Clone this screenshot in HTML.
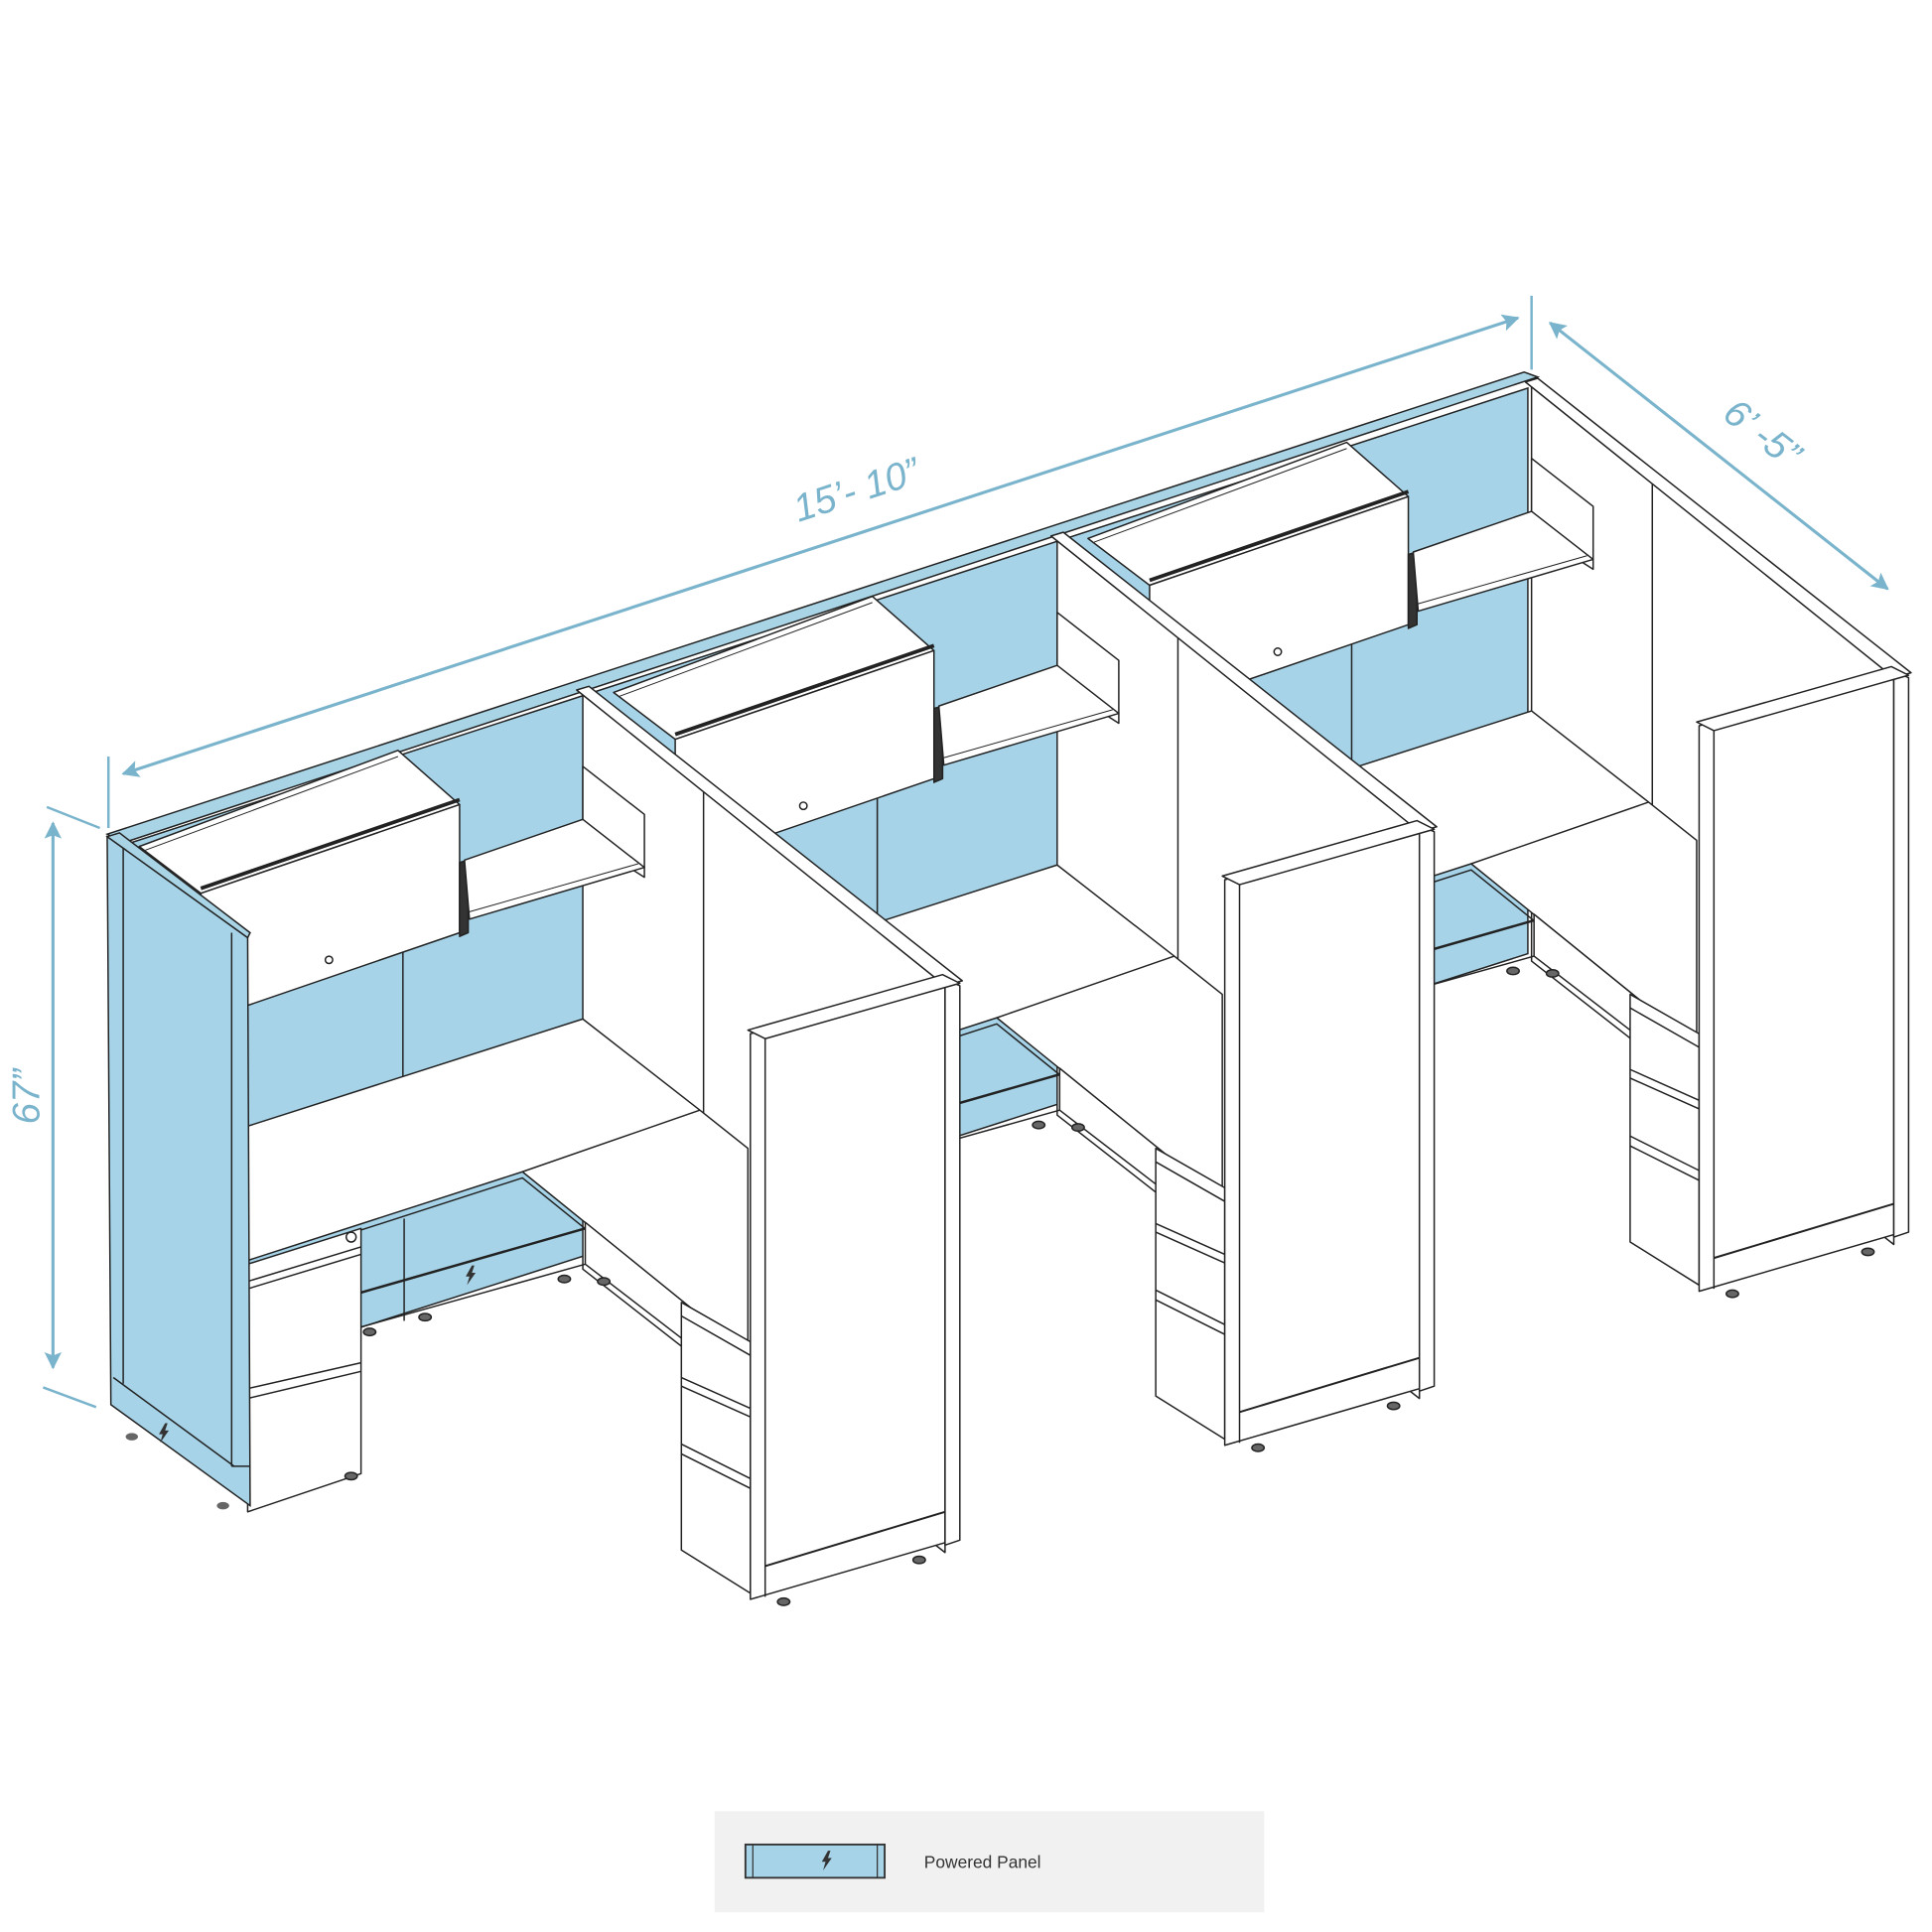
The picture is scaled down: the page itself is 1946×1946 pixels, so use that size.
<!DOCTYPE html>
<html><head><meta charset="utf-8"><style>
html,body{margin:0;padding:0;background:#fff;}
svg{display:block;}
</style></head><body>
<svg xmlns="http://www.w3.org/2000/svg" width="1946" height="1946" viewBox="0 0 1568 1568">
<defs>
<marker id="ar2" viewBox="0 0 10 10" refX="9" refY="5" markerWidth="22" markerHeight="14" orient="auto-start-reverse" markerUnits="userSpaceOnUse">
<path d="M0,0 L10,5 L0,10 L2,5 Z" fill="#7ab4cc"/></marker>
<path id="bolt" d="M1,-8 L-4,1 L-1,1 L-3,8 L4,-2 L1,-2 L3,-8 Z" fill="#333"/>
<g id="st" stroke="#222" stroke-width="1.2" stroke-linejoin="round">
 <polygon points="473,563 767,795 767,1260 473,1030" fill="#fff"/>
 <line x1="571" y1="637" x2="571" y2="905"/>
 <polygon points="468,560 478,557 781,796 767,800" fill="#fff"/>
 <polygon points="113,687 323,609 373,653 163,725" fill="#fff"/>
 <polygon points="163,725 373,653 373,757 163,829" fill="#fff"/>
 <line x1="163" y1="721" x2="373" y2="649" stroke-width="3"/>
 <line x1="118" y1="690" x2="323" y2="614" stroke-width="0.8"/>
 <circle cx="267" cy="779" r="3" fill="#fff"/>
 <polygon points="373,700 380,698 380,757 373,760" fill="#333"/>
 <line x1="327" y1="773" x2="327" y2="874"/>
 <polygon points="473,622 523,661 523,712 473,680" fill="#fff"/>
 <polygon points="377,698 473,665 523,704 381,746" fill="#fff"/>
 <line x1="381" y1="740" x2="518" y2="701" stroke-width="0.8"/>
 <polygon points="201,914 473,827 568,901 607,932 607,1099 424,951 201,1023" fill="#fff"/>
 <line x1="424" y1="951" x2="568" y2="901"/>
 <polyline points="201,1028 424,956 607,1104" fill="none"/>
 <line x1="293" y1="1049" x2="475" y2="997" stroke-width="2"/>
 <line x1="328" y1="989" x2="328" y2="1072"/>
 <line x1="293" y1="1077" x2="475" y2="1026"/>
 <use href="#bolt" x="382" y="1035" stroke="none"/>
 <polygon points="475,992 607,1099 607,1140 553,1086 475,1026" fill="#fff"/>
 <ellipse cx="300" cy="1081" rx="5" ry="3" fill="#666"/>
 <ellipse cx="345" cy="1069" rx="5" ry="3" fill="#666"/>
 <ellipse cx="458" cy="1038" rx="5" ry="3" fill="#666"/>
 <ellipse cx="490" cy="1040" rx="5" ry="3" fill="#666"/>
 <polygon points="201,1026 293,997 293,1196 201,1227" fill="#fff"/>
 <line x1="201" y1="1040" x2="293" y2="1012"/>
 <line x1="201" y1="1046" x2="293" y2="1018"/>
 <line x1="201" y1="1127" x2="293" y2="1106"/>
 <line x1="201" y1="1135" x2="293" y2="1113"/>
 <circle cx="285" cy="1004" r="4" fill="#fff"/>
 <ellipse cx="285" cy="1198" rx="5" ry="3" fill="#666"/>
 <polygon points="553,1057 609,1089 609,1293 553,1258" fill="#fff"/>
 <line x1="553" y1="1068" x2="609" y2="1100"/>
 <line x1="553" y1="1118" x2="609" y2="1143"/>
 <line x1="553" y1="1125" x2="609" y2="1150"/>
 <line x1="553" y1="1172" x2="609" y2="1200"/>
 <line x1="553" y1="1180" x2="609" y2="1208"/>
 <polygon points="609,839 767,795 767,1252 609,1298" fill="#fff"/>
 <line x1="621" y1="843" x2="621" y2="1296"/>
 <line x1="621" y1="1271" x2="767" y2="1227" stroke-width="1.6"/>
 <polygon points="767,795 779,800 779,1250 767,1254" fill="#fff"/>
 <polygon points="607,836 765,791 779,798 621,843" fill="#fff"/>
 <ellipse cx="636" cy="1300" rx="5" ry="3" fill="#666"/>
 <ellipse cx="746" cy="1266" rx="5" ry="3" fill="#666"/>
</g>
</defs>

<polygon points="100,686 1240,315 1240,774 100,1139" fill="#a6d3e7" stroke="#222" stroke-width="1.2"/>
<polygon points="87,677 1237,302 1248,306 100,684" fill="#a9d4e6" stroke="#222" stroke-width="1.2"/>

<use href="#st" transform="translate(770,-250)"/>
<use href="#st" transform="translate(385,-125)"/>
<use href="#st"/>

<g stroke="#222" stroke-width="1.2">
<polygon points="87,679 201,761 203,1222 90,1140" fill="#a6d3e7"/>
<line x1="100" y1="686" x2="100" y2="1123"/>
<line x1="188" y1="757" x2="188" y2="1190"/>
<polygon points="87,679 97,676 203,757 201,761" fill="#a9d4e6"/>
<line x1="92" y1="1118" x2="190" y2="1190"/>
<polyline points="188,1190 203,1190" fill="none"/>
</g>
<use href="#bolt" x="133" y="1163"/>
<ellipse cx="107" cy="1166" rx="5" ry="3" fill="#666"/>
<ellipse cx="181" cy="1222" rx="5" ry="3" fill="#666"/>

<g stroke="#7ab4cc" stroke-width="2.5" fill="none">
<line x1="100" y1="628" x2="1232" y2="258" marker-start="url(#ar2)" marker-end="url(#ar2)"/>
<line x1="1258" y1="262" x2="1532" y2="478" marker-start="url(#ar2)" marker-end="url(#ar2)"/>
<line x1="43" y1="668" x2="43" y2="1110" marker-start="url(#ar2)" marker-end="url(#ar2)"/>
</g>
<g stroke="#7ab4cc" stroke-width="2">
<line x1="88" y1="614" x2="88" y2="672"/>
<line x1="1243" y1="240" x2="1243" y2="300"/>
<line x1="38" y1="655" x2="81" y2="672"/>
<line x1="35" y1="1126" x2="78" y2="1142"/>
</g>
<g fill="#7ab4cc" font-family="Liberation Sans, sans-serif" font-style="italic" font-size="31">
<text x="695" y="408" text-anchor="middle" transform="rotate(-18 695 398)">15’- 10”</text>
<text x="1430" y="362" text-anchor="middle" transform="rotate(38 1430 352)">6’ -5”</text>
<text x="22" y="900" text-anchor="middle" transform="rotate(-90 22 890)">67”</text>
</g>

<rect x="580" y="1470" width="446" height="82" fill="#f1f1f1"/>
<rect x="605" y="1497" width="113" height="27" fill="#a6d3e7" stroke="#333" stroke-width="1.5"/>
<line x1="611" y1="1497" x2="611" y2="1524" stroke="#333"/>
<line x1="712" y1="1497" x2="712" y2="1524" stroke="#333"/>
<use href="#bolt" x="671" y="1510"/>
<text x="750" y="1516" font-family="Liberation Sans, sans-serif" font-size="14" fill="#333">Powered Panel</text>
</svg>
</body></html>
